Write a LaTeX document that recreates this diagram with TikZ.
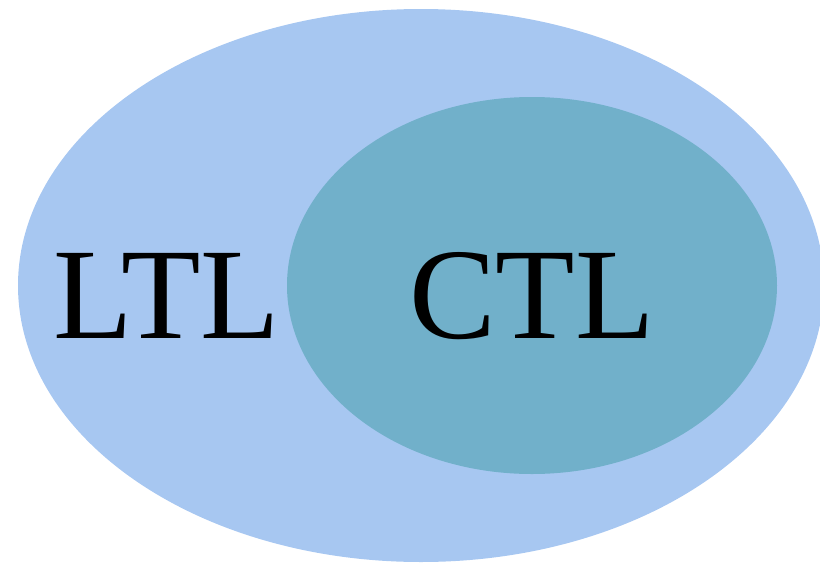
\documentclass[tikz,border=0pt]{standalone}
\usepackage{fontspec}
\setmainfont{Liberation Serif}
\definecolor{outerblue}{HTML}{A7C7F1}
\definecolor{innerteal}{HTML}{71B0CA}
\begin{document}
\begin{tikzpicture}[x=1pt,y=-1pt,
  setlabel/.style={font=\fontsize{130}{130}\selectfont, text=black, inner sep=0pt, anchor=base}]
  \useasboundingbox (0,0) rectangle (820,563);
  \clip (0,0) rectangle (820,563);
  % outer set and the nested inner set
  \fill[outerblue] (421,285.5) ellipse [x radius=403, y radius=276.5];
  \fill[innerteal] (532,285.5) ellipse [x radius=245, y radius=188.5];
  \node[setlabel] (ltl) at (167,338) {LTL};
  \node[setlabel] (ctl) at (532,338) {CTL};
\end{tikzpicture}
\end{document}
